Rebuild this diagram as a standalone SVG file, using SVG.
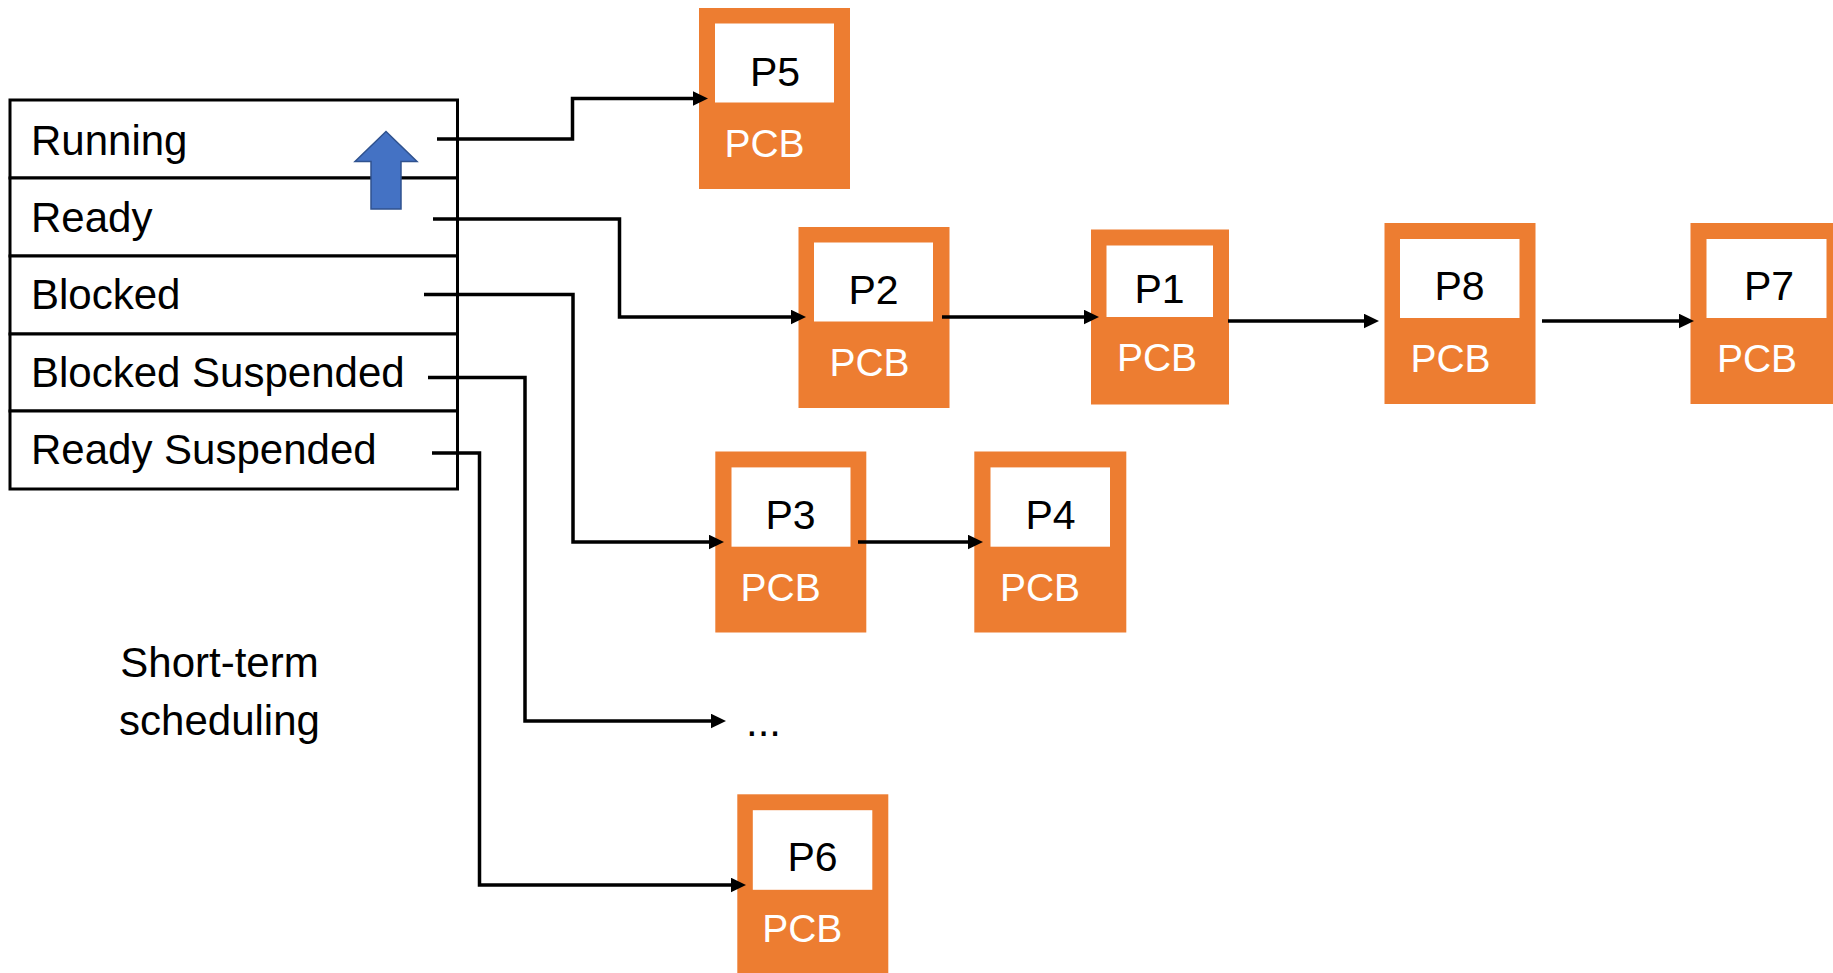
<svg xmlns="http://www.w3.org/2000/svg" width="1833" height="973" viewBox="0 0 1833 973">
<style>
.t{font-family:"Liberation Sans",Arial,sans-serif;font-size:42px;fill:#000}
.pl{font-family:"Liberation Sans",Arial,sans-serif;font-size:41px;fill:#000;text-anchor:middle}
.pcb{font-family:"Liberation Sans",Arial,sans-serif;font-size:39px;fill:#fff;text-anchor:middle}
.ob{fill:#ED7D31}
.wb{fill:#fff}
.row{fill:#fff;stroke:#000;stroke-width:3}
.c{fill:none;stroke:#000;stroke-width:3.5}
</style>
<defs>
<marker id="ah" markerUnits="userSpaceOnUse" markerWidth="17" markerHeight="17" refX="7" refY="7.5" orient="auto">
<path d="M0,0 L15.5,7.5 L0,15 z" fill="#000"/>
</marker>
</defs>
<rect width="1833" height="973" fill="#fff"/>

<g id="table">
<rect class="row" x="10" y="100" width="447.5" height="78"/>
<rect class="row" x="10" y="178" width="447.5" height="78"/>
<rect class="row" x="10" y="256" width="447.5" height="78"/>
<rect class="row" x="10" y="334" width="447.5" height="77"/>
<rect class="row" x="10" y="411" width="447.5" height="78"/>
<text class="t" x="31" y="155">Running</text>
<text class="t" x="31" y="232">Ready</text>
<text class="t" x="31" y="309">Blocked</text>
<text class="t" x="31" y="387">Blocked Suspended</text>
<text class="t" x="31" y="464">Ready Suspended</text>
</g>

<g id="up-arrow">
<polygon points="386,131.5 417,161.5 401,161.5 401,209 371,209 371,161.5 355,161.5" fill="#4472C4" stroke="#2F528F" stroke-width="1.5"/>
</g>

<g id="label-short-term">
<text class="t" x="219.5" y="677" text-anchor="middle">Short-term</text>
<text class="t" x="219.5" y="735" text-anchor="middle">scheduling</text>
</g>

<g id="ellipsis">
<text class="t" x="746" y="736">...</text>
</g>

<g id="P5">
<rect class="ob" x="699" y="8" width="151" height="181"/>
<rect class="wb" x="715" y="23.5" width="119" height="79"/>
<text class="pl" x="775" y="86">P5</text>
<text class="pcb" x="764.5" y="157">PCB</text>
</g>
<g id="P2">
<rect class="ob" x="798.5" y="227" width="151" height="181"/>
<rect class="wb" x="814" y="242.5" width="119" height="79"/>
<text class="pl" x="873.5" y="304">P2</text>
<text class="pcb" x="869.5" y="376">PCB</text>
</g>
<g id="P1">
<rect class="ob" x="1091" y="229.5" width="138" height="175"/>
<rect class="wb" x="1106.5" y="245.5" width="106.5" height="71.5"/>
<text class="pl" x="1159.5" y="303">P1</text>
<text class="pcb" x="1157" y="371">PCB</text>
</g>
<g id="P8">
<rect class="ob" x="1384.5" y="223" width="151" height="181"/>
<rect class="wb" x="1400" y="239" width="119.5" height="79"/>
<text class="pl" x="1459.5" y="300">P8</text>
<text class="pcb" x="1450.5" y="372">PCB</text>
</g>
<g id="P7">
<rect class="ob" x="1690.5" y="223" width="151" height="181"/>
<rect class="wb" x="1706.5" y="239" width="120" height="79"/>
<text class="pl" x="1769" y="300">P7</text>
<text class="pcb" x="1757" y="372">PCB</text>
</g>
<g id="P3">
<rect class="ob" x="715.3" y="451.5" width="151" height="181"/>
<rect class="wb" x="731.5" y="467.4" width="119" height="79.3"/>
<text class="pl" x="790.5" y="529">P3</text>
<text class="pcb" x="780.6" y="601">PCB</text>
</g>
<g id="P4">
<rect class="ob" x="974.3" y="451.5" width="152" height="181"/>
<rect class="wb" x="990.5" y="467.4" width="119.5" height="79.3"/>
<text class="pl" x="1050.6" y="529">P4</text>
<text class="pcb" x="1040" y="601">PCB</text>
</g>
<g id="P6">
<rect class="ob" x="737.3" y="794.3" width="151" height="181"/>
<rect class="wb" x="752.8" y="810.2" width="119.5" height="79.6"/>
<text class="pl" x="812.5" y="871">P6</text>
<text class="pcb" x="802.3" y="942">PCB</text>
</g>

<g id="connectors">
<path class="c" d="M437,139 H572.5 V98.5 H699.5" marker-end="url(#ah)"/>
<path class="c" d="M433,219 H619.5 V317 H797.5" marker-end="url(#ah)"/>
<path class="c" d="M424,294.5 H573 V542 H715.5" marker-end="url(#ah)"/>
<path class="c" d="M428,377.5 H525 V721 H717.5" marker-end="url(#ah)"/>
<path class="c" d="M432,453 H479.5 V885 H737.5" marker-end="url(#ah)"/>
<path class="c" d="M942,317 H1090.5" marker-end="url(#ah)"/>
<path class="c" d="M1228,321 H1370.5" marker-end="url(#ah)"/>
<path class="c" d="M1542,321 H1685.5" marker-end="url(#ah)"/>
<path class="c" d="M858,542 H974.5" marker-end="url(#ah)"/>
</g>
</svg>
